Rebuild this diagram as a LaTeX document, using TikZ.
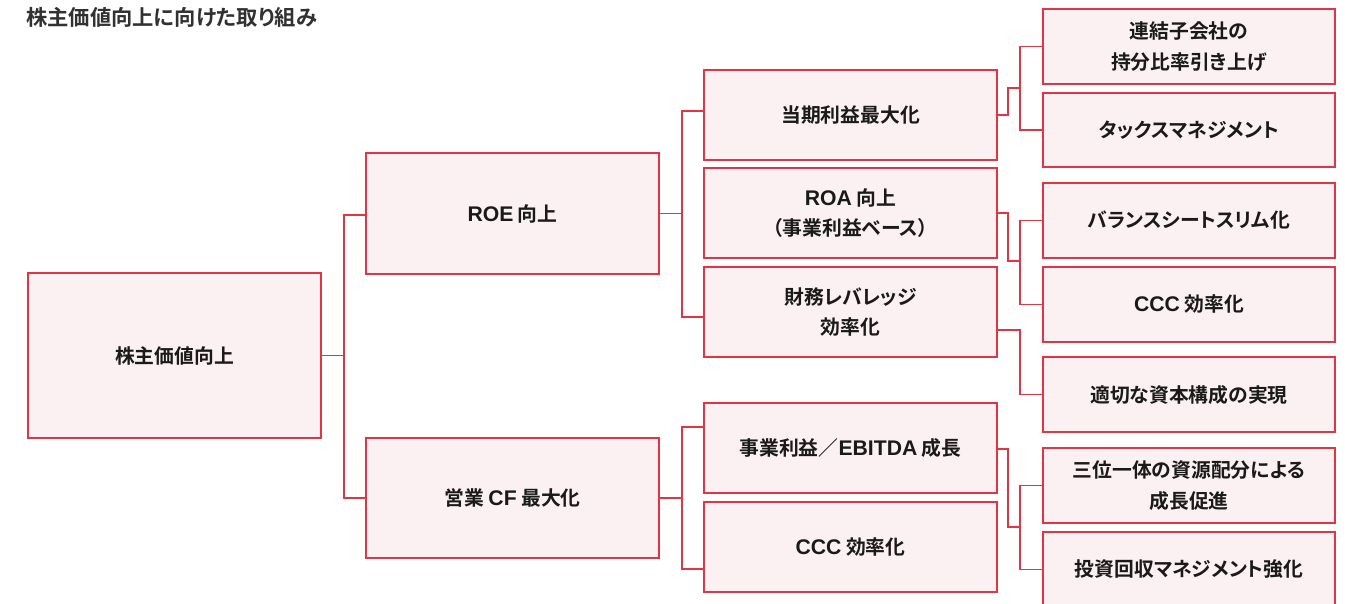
\documentclass[tikz,border=0pt]{standalone}
\usepackage{fontspec}
\setmainfont{Noto Sans CJK JP}[BoldFont={Noto Sans CJK JP Bold}, RawFeature=+palt]
\newfontfamily\latinsans{Liberation Sans}[Scale=1.07]
\newcommand\LT[1]{{\latinsans #1}}
\definecolor{edge}{RGB}{228,52,68}
\definecolor{boxfill}{RGB}{251,240,242}
\definecolor{ink}{RGB}{26,26,26}
\tikzset{
  box/.style={draw=edge, fill=boxfill, line width=1.1pt, inner sep=0pt, outer sep=0pt,
    align=center, text=ink, font=\fontsize{19.8}{30.5}\selectfont\bfseries},
  lvl1/.style={box, minimum width=293pt},
  lvl4/.style={box, minimum width=292pt},
  link/.style={draw=edge, line width=1.1pt}
}
\begin{document}
\begin{tikzpicture}[x=1pt,y=-1pt]
\useasboundingbox (0,0) rectangle (1345,603);
\node[anchor=west, inner sep=0pt, text=ink!90, font=\fontsize{21.3}{24}\selectfont\bfseries] (title) at (26,17.5) {株主価値向上に向けた取り組み};

\node[lvl1, minimum height=165pt] (A) at (174.5,355.5) {株主価値向上};
\node[lvl1, minimum height=121pt] (ROE) at (512.5,213.5) {\LT{ROE} 向上};
\node[lvl1, minimum height=120pt] (CF) at (512.5,498) {営業 \LT{CF} 最大化};

\node[lvl1, minimum height=90pt] (P1) at (850.5,115) {当期利益最大化};
\node[lvl1, minimum height=90pt] (P2) at (850.5,213) {\LT{ROA} 向上\\（事業利益ベース）};
\node[lvl1, minimum height=90pt] (P3) at (850.5,312) {財務レバレッジ\\効率化};
\node[lvl1, minimum height=90pt] (P4) at (850.5,448) {事業利益／\LT{EBITDA} 成長};
\node[lvl1, minimum height=90pt] (P5) at (850.5,547) {\LT{CCC} 効率化};

\node[lvl4, minimum height=75pt] (Q1) at (1189,46.5) {連結子会社の\\持分比率引き上げ};
\node[lvl4, minimum height=74pt] (Q2) at (1189,130) {タックスマネジメント};
\node[lvl4, minimum height=75pt] (Q3) at (1189,220.5) {バランスシートスリム化};
\node[lvl4, minimum height=75pt] (Q4) at (1189,304.5) {\LT{CCC} 効率化};
\node[lvl4, minimum height=75pt] (Q5) at (1189,394.5) {適切な資本構成の実現};
\node[lvl4, minimum height=75pt] (Q6) at (1189,485.5) {三位一体の資源配分による\\成長促進};
\node[lvl4, minimum height=75pt] (Q7) at (1189,569.5) {投資回収マネジメント強化};

% level 1 -> 2
\coordinate (j1) at (344,355.5);
\draw[link] (A.east) -- (j1);
\draw[link] ([yshift=-1.5pt]ROE.west) -| (j1);
\draw[link] (CF.west) -| (j1);
% ROE -> level 3
\coordinate (j2) at (682,213.5);
\draw[link] (ROE.east) -- (j2);
\draw[link] ([yshift=4pt]P1.west) -| (j2);
\draw[link] ([yshift=-5pt]P3.west) -| (j2);
% CF -> level 3
\coordinate (j3) at (682,498);
\draw[link] (CF.east) -- (j3);
\draw[link] ([yshift=21pt]P4.west) -| (j3);
\draw[link] ([yshift=-22pt]P5.west) -| (j3);
% P1 -> Q1,Q2
\coordinate (k1) at (1020,88);
\draw[link] (P1.east) -- ++(11,0) |- (k1);
\draw[link] (Q1.west) -| (k1);
\draw[link] (Q2.west) -| (k1);
% P2 -> Q3,Q4
\coordinate (k2) at (1020,261);
\draw[link] (P2.east) -- ++(11,0) |- (k2);
\draw[link] (Q3.west) -| (k2);
\draw[link] (Q4.west) -| (k2);
% P3 -> Q5
\coordinate (k3) at (1020,394.5);
\draw[link] ([yshift=-18pt]P3.east) -| (k3) -- (Q5.west);
% P4 -> Q6,Q7
\coordinate (k4) at (1020,527);
\draw[link] ([yshift=-1pt]P4.east) -- ++(11,0) |- (k4);
\draw[link] (Q6.west) -| (k4);
\draw[link] (Q7.west) -| (k4);
\end{tikzpicture}
\end{document}
